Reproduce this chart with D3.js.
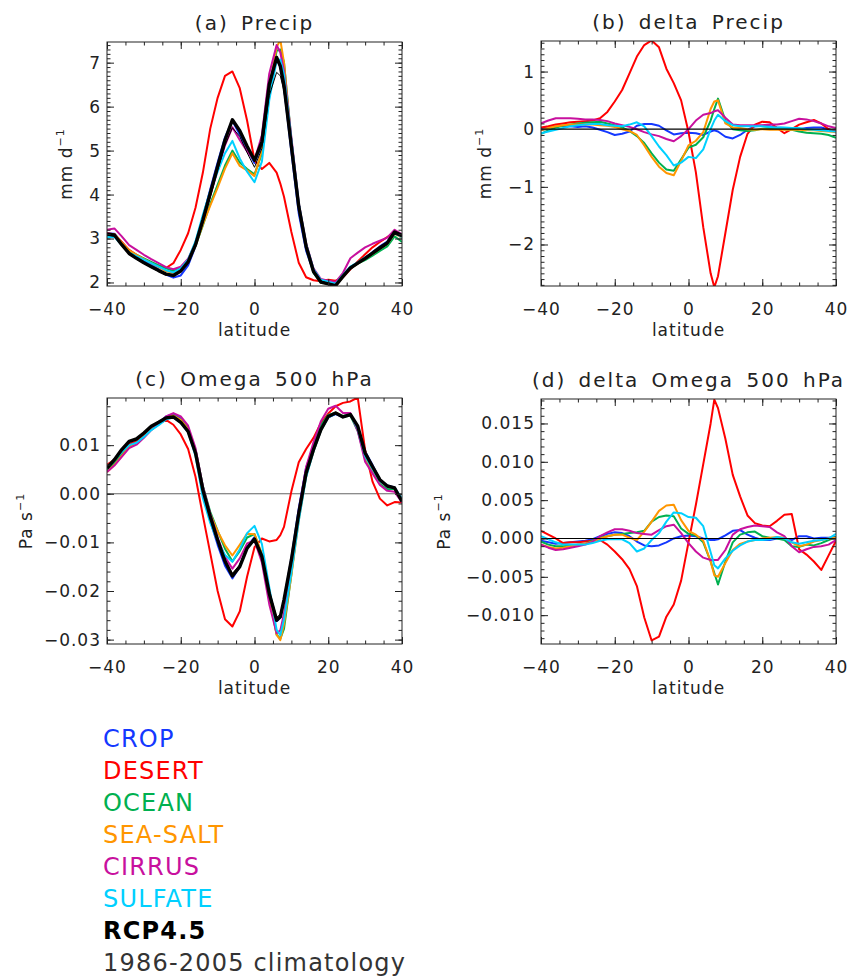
<!DOCTYPE html>
<html>
<head>
<meta charset="utf-8">
<title>Precip and Omega 500 hPa</title>
<style>
    html, body {
    margin: 0;
    padding: 0;
    background-color: white;
    }
    svg {
    display: block;
    font-family: "DejaVu Sans", sans-serif;
    }
</style>
</head>
<body>
<script src="https://d3js.org/d3.v7.min.js"></script>
<script>
// latitude grid (degrees)
var lat = [-40,-38,-36,-34,-32,-30,-28,-26,-24,-22,-20,-18,-16,-14,-12,-10,-8,-6,-4,-2,0,2,4,6,7,8,10,12,14,16,18,20,22,24,26,28,30,32,34,36,38,40];

// legend / series names
var names = ["CROP", "DESERT", "OCEAN", "SEA-SALT", "CIRRUS", "SULFATE"];
var rcpName = "RCP4.5";
var climName = "1986-2005 climatology";

// (a) precip, mm/day
var precipCrop    = [3.12,3.11,2.91,2.72,2.60,2.49,2.41,2.30,2.18,2.11,2.16,2.39,2.82,3.48,4.12,4.73,5.30,5.68,5.36,5.03,4.72,5.13,6.40,7.08,6.90,6.44,4.97,3.57,2.72,2.24,2.06,2.03,1.98,2.17,2.35,2.44,2.55,2.69,2.82,2.93,3.15,3.01];
var precipDesert  = [3.12,3.10,2.92,2.74,2.63,2.53,2.45,2.38,2.33,2.44,2.74,3.12,3.70,4.50,5.50,6.20,6.70,6.80,6.42,5.68,4.78,4.58,4.72,4.50,4.25,3.95,3.15,2.45,2.12,2.05,2.03,2.06,2.04,2.12,2.30,2.48,2.64,2.80,2.92,3.03,3.14,3.04];
var precipOcean   = [3.02,3.06,2.89,2.72,2.63,2.55,2.47,2.39,2.32,2.26,2.33,2.50,2.83,3.30,3.79,4.22,4.66,5.00,4.73,4.58,4.46,4.93,6.36,7.27,7.30,7.01,5.25,3.73,2.80,2.22,1.99,1.98,1.95,2.16,2.33,2.43,2.51,2.61,2.72,2.82,3.05,2.92];
var precipSeaSalt = [3.08,3.10,2.91,2.73,2.63,2.53,2.44,2.35,2.26,2.22,2.30,2.47,2.83,3.32,3.75,4.16,4.59,4.94,4.65,4.55,4.42,5.00,6.45,7.35,7.52,7.00,5.20,3.76,2.84,2.25,2.00,1.97,1.92,2.13,2.32,2.43,2.54,2.65,2.77,2.87,3.11,3.02];
var precipCirrus  = [3.20,3.23,3.05,2.85,2.74,2.63,2.53,2.44,2.35,2.30,2.36,2.54,2.90,3.42,3.98,4.55,5.12,5.53,5.24,4.98,4.78,5.35,6.75,7.40,7.23,6.81,5.30,3.81,2.89,2.32,2.08,2.04,2.01,2.22,2.55,2.68,2.80,2.88,2.95,3.02,3.20,3.09];
var precipSulfate = [3.03,3.04,2.85,2.68,2.60,2.52,2.44,2.36,2.28,2.23,2.32,2.52,2.94,3.54,4.08,4.52,4.94,5.22,4.82,4.52,4.28,4.75,6.15,7.05,7.07,6.73,5.24,3.80,2.87,2.30,2.06,2.02,1.97,2.17,2.36,2.46,2.57,2.67,2.78,2.88,3.12,3.03];
var precipRcp     = [3.10,3.08,2.86,2.66,2.55,2.45,2.36,2.27,2.19,2.16,2.26,2.47,2.86,3.42,4.03,4.64,5.24,5.70,5.45,5.10,4.78,5.20,6.50,7.12,6.92,6.48,5.10,3.73,2.82,2.25,2.01,1.97,1.93,2.14,2.33,2.44,2.55,2.67,2.79,2.90,3.15,3.07];
var precipClim    = [3.08,3.05,2.84,2.64,2.53,2.43,2.34,2.25,2.17,2.14,2.25,2.45,2.82,3.36,3.95,4.55,5.12,5.52,5.32,4.95,4.62,5.05,6.25,6.78,6.70,6.35,5.05,3.75,2.85,2.28,2.03,1.98,1.94,2.13,2.32,2.42,2.52,2.64,2.75,2.86,3.10,3.04];

// (b) delta precip, mm/day
var dPrecipCrop    = [0.02,0.03,0.05,0.06,0.05,0.04,0.05,0.03,-0.01,-0.05,-0.10,-0.08,-0.04,0.06,0.09,0.09,0.06,-0.02,-0.09,-0.07,-0.06,-0.07,-0.10,-0.04,-0.02,-0.04,-0.13,-0.16,-0.10,-0.01,0.05,0.06,0.05,0.03,0.02,0.00,0.00,0.02,0.03,0.03,0.00,-0.06];
var dPrecipDesert  = [0.03,0.05,0.08,0.10,0.12,0.13,0.14,0.15,0.19,0.30,0.48,0.68,0.97,1.26,1.46,1.54,1.42,1.05,0.80,0.50,-0.05,-0.75,-1.70,-2.50,-2.74,-2.55,-1.80,-1.05,-0.48,-0.08,0.08,0.13,0.12,0.02,-0.07,0.00,0.08,0.12,0.16,0.10,0.00,-0.04];
var dPrecipOcean   = [-0.08,-0.02,0.03,0.06,0.08,0.10,0.11,0.12,0.13,0.10,0.07,0.03,-0.03,-0.12,-0.24,-0.42,-0.58,-0.70,-0.72,-0.52,-0.32,-0.27,-0.14,0.15,0.35,0.53,0.15,0.00,-0.02,-0.03,-0.02,0.01,0.02,0.02,0.00,-0.01,-0.04,-0.06,-0.07,-0.08,-0.10,-0.15];
var dPrecipSeaSalt = [-0.02,0.02,0.05,0.07,0.08,0.08,0.08,0.08,0.07,0.06,0.04,0.00,-0.03,-0.10,-0.28,-0.48,-0.65,-0.76,-0.80,-0.55,-0.28,-0.20,-0.05,0.35,0.48,0.50,0.10,0.03,0.02,0.00,-0.01,0.00,-0.01,-0.01,-0.01,-0.01,-0.01,-0.02,-0.02,-0.03,-0.04,-0.05];
var dPrecipCirrus  = [0.10,0.15,0.19,0.19,0.19,0.18,0.17,0.17,0.16,0.14,0.10,0.07,0.04,0.00,-0.05,-0.09,-0.12,-0.17,-0.21,-0.12,0.00,0.15,0.25,0.28,0.31,0.33,0.20,0.08,0.07,0.07,0.07,0.07,0.08,0.08,0.10,0.14,0.18,0.17,0.14,0.10,0.05,0.02];
var dPrecipSulfate = [-0.07,-0.04,-0.01,0.02,0.05,0.07,0.08,0.09,0.09,0.07,0.06,0.05,0.08,0.12,0.05,-0.12,-0.30,-0.45,-0.63,-0.58,-0.48,-0.50,-0.35,0.00,0.15,0.25,0.14,0.07,0.05,0.05,0.05,0.05,0.04,0.03,0.03,0.02,0.02,0.00,-0.01,-0.02,-0.03,-0.04];

// (c) omega 500 hPa, Pa/s
var omegaCrop    = [0.0050,0.0065,0.0084,0.0102,0.0108,0.0121,0.0136,0.0146,0.0159,0.0164,0.0155,0.0135,0.0087,0.0004,-0.0056,-0.0105,-0.0148,-0.0174,-0.0150,-0.0109,-0.0089,-0.0126,-0.0205,-0.0262,-0.0255,-0.0219,-0.0132,-0.0030,0.0054,0.0096,0.0133,0.0157,0.0164,0.0158,0.0163,0.0137,0.0087,0.0059,0.0029,0.0017,0.0013,-0.0014];
var omegaDesert  = [0.0060,0.0070,0.0090,0.0102,0.0108,0.0120,0.0135,0.0144,0.0152,0.0142,0.0122,0.0092,0.0035,-0.0045,-0.0122,-0.0200,-0.0258,-0.0273,-0.0242,-0.0170,-0.0110,-0.0092,-0.0098,-0.0095,-0.0085,-0.0068,0.0005,0.0065,0.0092,0.0115,0.0145,0.0165,0.0180,0.0187,0.0190,0.0198,0.0090,0.0025,-0.0010,-0.0024,-0.0017,-0.0018];
var omegaOcean   = [0.0049,0.0062,0.0081,0.0098,0.0104,0.0117,0.0132,0.0144,0.0157,0.0161,0.0152,0.0134,0.0091,0.0016,-0.0037,-0.0076,-0.0113,-0.0139,-0.0118,-0.0090,-0.0083,-0.0125,-0.0210,-0.0290,-0.0298,-0.0278,-0.0166,-0.0045,0.0048,0.0099,0.0141,0.0162,0.0167,0.0158,0.0161,0.0129,0.0073,0.0048,0.0020,0.0010,0.0010,-0.0014];
var omegaSeaSalt = [0.0045,0.0059,0.0078,0.0096,0.0103,0.0117,0.0132,0.0143,0.0156,0.0161,0.0152,0.0133,0.0085,0.0006,-0.0042,-0.0077,-0.0106,-0.0127,-0.0105,-0.0082,-0.0083,-0.0124,-0.0208,-0.0290,-0.0301,-0.0268,-0.0168,-0.0055,0.0036,0.0087,0.0130,0.0159,0.0167,0.0160,0.0164,0.0134,0.0074,0.0048,0.0025,0.0014,0.0012,-0.0015];
var omegaCirrus  = [0.0045,0.0058,0.0076,0.0094,0.0101,0.0115,0.0131,0.0143,0.0159,0.0166,0.0159,0.0140,0.0094,0.0015,-0.0041,-0.0090,-0.0130,-0.0154,-0.0133,-0.0102,-0.0096,-0.0141,-0.0227,-0.0287,-0.0281,-0.0246,-0.0151,-0.0035,0.0055,0.0106,0.0149,0.0175,0.0181,0.0166,0.0166,0.0129,0.0066,0.0042,0.0018,0.0006,0.0004,-0.0018];
var omegaSulfate = [0.0056,0.0069,0.0086,0.0100,0.0105,0.0117,0.0131,0.0141,0.0153,0.0157,0.0146,0.0127,0.0078,-0.0009,-0.0060,-0.0098,-0.0126,-0.0140,-0.0114,-0.0081,-0.0066,-0.0103,-0.0192,-0.0280,-0.0291,-0.0258,-0.0162,-0.0056,0.0034,0.0087,0.0130,0.0157,0.0165,0.0160,0.0163,0.0134,0.0077,0.0051,0.0026,0.0014,0.0012,-0.0010];
var omegaRcp     = [0.0053,0.0070,0.0091,0.0108,0.0113,0.0125,0.0139,0.0147,0.0156,0.0158,0.0147,0.0128,0.0084,0.0008,-0.0047,-0.0095,-0.0139,-0.0169,-0.0150,-0.0112,-0.0093,-0.0129,-0.0205,-0.0260,-0.0253,-0.0218,-0.0136,-0.0040,0.0043,0.0091,0.0132,0.0159,0.0166,0.0158,0.0163,0.0139,0.0084,0.0056,0.0029,0.0016,0.0012,-0.0016];
var omegaClim    = [0.0054,0.0069,0.0090,0.0107,0.0112,0.0124,0.0138,0.0146,0.0155,0.0157,0.0146,0.0127,0.0084,0.0009,-0.0045,-0.0092,-0.0135,-0.0164,-0.0146,-0.0110,-0.0092,-0.0126,-0.0200,-0.0254,-0.0248,-0.0214,-0.0134,-0.0040,0.0042,0.0090,0.0131,0.0158,0.0165,0.0157,0.0162,0.0138,0.0084,0.0056,0.0030,0.0017,0.0013,-0.0015];

// (d) delta omega 500 hPa, Pa/s
var dOmegaCrop    = [-0.0003,-0.0005,-0.0007,-0.0006,-0.0005,-0.0004,-0.0003,-0.0001,0.0003,0.0006,0.0008,0.0007,0.0003,-0.0004,-0.0009,-0.0010,-0.0009,-0.0005,0.0000,0.0003,0.0004,0.0003,0.0000,-0.0002,-0.0002,-0.0001,0.0004,0.0010,0.0011,0.0005,0.0001,-0.0002,-0.0002,0.0000,0.0000,-0.0002,0.0003,0.0003,0.0000,0.0001,0.0001,0.0002];
var dOmegaDesert  = [0.0010,0.0005,0.0000,-0.0006,-0.0005,-0.0005,-0.0004,-0.0003,-0.0002,-0.0008,-0.0017,-0.0027,-0.0040,-0.0062,-0.0103,-0.0133,-0.0128,-0.0102,-0.0086,-0.0055,-0.0005,0.0044,0.0097,0.0150,0.0181,0.0170,0.0130,0.0083,0.0055,0.0030,0.0020,0.0017,0.0016,0.0023,0.0031,0.0032,-0.0014,-0.0021,-0.0030,-0.0041,-0.0022,-0.0003];
var dOmegaOcean   = [-0.0004,-0.0008,-0.0010,-0.0010,-0.0009,-0.0008,-0.0007,-0.0003,0.0001,0.0003,0.0005,0.0006,0.0007,0.0008,0.0010,0.0022,0.0028,0.0030,0.0029,0.0013,0.0006,0.0004,-0.0005,-0.0030,-0.0045,-0.0060,-0.0030,-0.0005,0.0005,0.0008,0.0009,0.0003,0.0001,0.0000,-0.0002,-0.0010,-0.0011,-0.0008,-0.0009,-0.0006,-0.0002,0.0002];
var dOmegaSeaSalt = [-0.0008,-0.0011,-0.0013,-0.0012,-0.0010,-0.0008,-0.0007,-0.0004,0.0000,0.0003,0.0005,0.0005,0.0001,-0.0002,0.0009,0.0022,0.0036,0.0043,0.0044,0.0024,0.0010,0.0005,-0.0003,-0.0030,-0.0048,-0.0050,-0.0032,-0.0015,-0.0007,-0.0004,-0.0002,0.0000,0.0001,0.0002,0.0001,-0.0005,-0.0010,-0.0008,-0.0004,-0.0002,0.0000,0.0001];
var dOmegaCirrus  = [-0.0008,-0.0012,-0.0015,-0.0014,-0.0012,-0.0010,-0.0008,-0.0004,0.0003,0.0008,0.0012,0.0012,0.0010,0.0007,0.0006,0.0005,0.0011,0.0016,0.0018,0.0007,-0.0006,-0.0017,-0.0025,-0.0028,-0.0028,-0.0028,-0.0015,0.0005,0.0012,0.0015,0.0017,0.0016,0.0015,0.0008,0.0003,-0.0010,-0.0018,-0.0014,-0.0011,-0.0010,-0.0008,-0.0002];
var dOmegaSulfate = [0.0003,-0.0001,-0.0005,-0.0008,-0.0008,-0.0008,-0.0008,-0.0006,-0.0003,-0.0001,-0.0001,-0.0001,-0.0006,-0.0017,-0.0013,-0.0002,0.0007,0.0022,0.0034,0.0033,0.0028,0.0027,0.0016,-0.0018,-0.0035,-0.0039,-0.0026,-0.0016,-0.0009,-0.0004,-0.0002,-0.0002,-0.0001,0.0002,0.0000,-0.0005,-0.0007,-0.0005,-0.0003,-0.0002,0.0000,0.0006];

// tick values and labels
var xTicks = [-40, -20, 0, 20, 40];
var xTickLabels = ["\u221240", "\u221220", "0", "20", "40"];
var precipTicks = [2, 3, 4, 5, 6, 7];
var precipTickLabels = ["2", "3", "4", "5", "6", "7"];
var dPrecipTicks = [-2, -1, 0, 1];
var dPrecipTickLabels = ["\u22122", "\u22121", "0", "1"];
var omegaTicks = [-0.03, -0.02, -0.01, 0, 0.01];
var omegaTickLabels = ["\u22120.03", "\u22120.02", "\u22120.01", "0.00", "0.01"];
var dOmegaTicks = [-0.010, -0.005, 0, 0.005, 0.010, 0.015];
var dOmegaTickLabels = ["\u22120.010", "\u22120.005", "0.000", "0.005", "0.010", "0.015"];

// colours of the six experiments
var colors = ["#1438ff", "#ff0000", "#00b050", "#ff9600", "#c8109e", "#00d0ff"];

var width = 852;
var height = 978;
var ink = "#222";

var svg = d3.select("body")
    .append("svg")
    .attr("width", width)
    .attr("height", height);

function drawPanel(p) {
    var x = d3.scaleLinear().domain([-40, 40]).range([p.x0, p.x1]);
    var y = d3.scaleLinear().domain(p.yDomain).range([p.y1, p.y0]);
    var g = svg.append("g");

    // clip so lines stay inside the frame
    g.append("clipPath").attr("id", "clip-" + p.id)
        .append("rect")
        .attr("x", p.x0).attr("y", p.y0)
        .attr("width", p.x1 - p.x0).attr("height", p.y1 - p.y0);

    var plot = g.append("g").attr("clip-path", "url(#clip-" + p.id + ")");

    var line = d3.line()
        .x(function(d, i) { return x(lat[i]); })
        .y(function(d) { return y(d); });

    if (p.zeroBelow) {
        plot.append("line")
            .attr("x1", p.x0).attr("x2", p.x1)
            .attr("y1", y(0)).attr("y2", y(0))
            .attr("stroke", p.zeroColor).attr("stroke-width", 1.2);
    }

    p.series.forEach(function(s) {
        plot.append("path")
            .datum(s.values)
            .attr("fill", "none")
            .attr("stroke", s.color)
            .attr("stroke-width", s.width)
            .attr("stroke-linejoin", "round")
            .attr("d", line);
    });

    if (!p.zeroBelow) {
        plot.append("line")
            .attr("x1", p.x0).attr("x2", p.x1)
            .attr("y1", y(0)).attr("y2", y(0))
            .attr("stroke", p.zeroColor).attr("stroke-width", 1.2);
    }

    // frame
    g.append("rect")
        .attr("x", p.x0).attr("y", p.y0)
        .attr("width", p.x1 - p.x0).attr("height", p.y1 - p.y0)
        .attr("fill", "none").attr("stroke", ink).attr("stroke-width", 1);

    var xMinor = d3.range(-40, 40.1, 5);
    var yMinor = d3.range(p.minorStart, p.yDomain[1], p.minorStep);

    // x axes, bottom with labels, top mirrored
    g.append("g").attr("class", "ax").attr("transform", "translate(0," + p.y1 + ")")
        .call(d3.axisBottom(x).tickValues(xMinor).tickSize(-3.5).tickFormat(""));
    g.append("g").attr("class", "ax lab").attr("transform", "translate(0," + p.y1 + ")")
        .call(d3.axisBottom(x).tickValues(xTicks).tickSize(-7).tickPadding(17)
            .tickFormat(function(d, i) { return xTickLabels[i]; }));
    g.append("g").attr("class", "ax").attr("transform", "translate(0," + p.y0 + ")")
        .call(d3.axisTop(x).tickValues(xMinor).tickSize(-3.5).tickFormat(""));
    g.append("g").attr("class", "ax").attr("transform", "translate(0," + p.y0 + ")")
        .call(d3.axisTop(x).tickValues(xTicks).tickSize(-7).tickFormat(""));

    // y axes, left with labels, right mirrored
    g.append("g").attr("class", "ax").attr("transform", "translate(" + p.x0 + ",0)")
        .call(d3.axisLeft(y).tickValues(yMinor).tickSize(-3.5).tickFormat(""));
    g.append("g").attr("class", "ax lab").attr("transform", "translate(" + p.x0 + ",0)")
        .call(d3.axisLeft(y).tickValues(p.yTicks).tickSize(-7).tickPadding(6)
            .tickFormat(function(d, i) { return p.yTickLabels[i]; }));
    g.append("g").attr("class", "ax").attr("transform", "translate(" + p.x1 + ",0)")
        .call(d3.axisRight(y).tickValues(yMinor).tickSize(-3.5).tickFormat(""));
    g.append("g").attr("class", "ax").attr("transform", "translate(" + p.x1 + ",0)")
        .call(d3.axisRight(y).tickValues(p.yTicks).tickSize(-7).tickFormat(""));

    g.selectAll(".ax").attr("font-family", null).attr("font-size", null);
    g.selectAll(".ax .domain").remove();
    g.selectAll(".ax line").attr("stroke", ink);
    g.selectAll(".lab text")
        .attr("fill", ink)
        .style("font-size", "17px")
        .style("letter-spacing", "1px");

    // title
    g.append("text")
        .attr("x", (p.x0 + p.x1) / 2).attr("y", p.y0 - 12)
        .attr("text-anchor", "middle")
        .attr("fill", ink)
        .style("font-size", "20px")
        .style("letter-spacing", "2px")
        .style("word-spacing", "4px")
        .text(p.title);

    // x label
    g.append("text")
        .attr("x", (p.x0 + p.x1) / 2).attr("y", p.y1 + 50)
        .attr("text-anchor", "middle")
        .attr("fill", ink)
        .style("font-size", "17px")
        .style("letter-spacing", "1px")
        .text("latitude");

    // y label with superscript
    var yl = g.append("text")
        .attr("transform", "translate(" + p.yLabelX + "," + ((p.y0 + p.y1) / 2) + ") rotate(-90)")
        .attr("text-anchor", "middle")
        .attr("fill", ink)
        .style("font-size", "17px")
        .style("letter-spacing", "1px");
    yl.append("tspan").text(p.yLabel);
    yl.append("tspan").attr("dy", -8).style("font-size", "11px").text("\u22121");
}

function six(a, b, c, d, e, f) {
    return [a, b, c, d, e, f].map(function(v, i) {
        return {values: v, color: colors[i], width: 2};
    });
}

drawPanel({
    id: "a", x0: 107, x1: 402, y0: 42, y1: 286,
    yDomain: [1.92, 7.47], yTicks: precipTicks, yTickLabels: precipTickLabels,
    minorStart: 2, minorStep: 0.1,
    title: "(a) Precip", yLabel: "mm d", yLabelX: 72,
    zeroColor: "none", zeroBelow: true,
    series: six(precipCrop, precipDesert, precipOcean, precipSeaSalt, precipCirrus, precipSulfate)
        .concat([{values: precipRcp, color: "#000", width: 3.4},
                 {values: precipClim, color: "#000", width: 1}])
});

drawPanel({
    id: "b", x0: 541, x1: 836, y0: 41, y1: 286,
    yDomain: [-2.72, 1.53], yTicks: dPrecipTicks, yTickLabels: dPrecipTickLabels,
    minorStart: -2.7, minorStep: 0.1,
    title: "(b) delta Precip", yLabel: "mm d", yLabelX: 491,
    zeroColor: "#000", zeroBelow: false,
    series: six(dPrecipCrop, dPrecipDesert, dPrecipOcean, dPrecipSeaSalt, dPrecipCirrus, dPrecipSulfate)
});

drawPanel({
    id: "c", x0: 107, x1: 402, y0: 398, y1: 644,
    yDomain: [-0.0309, 0.0197], yTicks: omegaTicks, yTickLabels: omegaTickLabels,
    minorStart: -0.030, minorStep: 0.002,
    title: "(c) Omega 500 hPa", yLabel: "Pa s", yLabelX: 32,
    zeroColor: "#666", zeroBelow: true,
    series: six(omegaCrop, omegaDesert, omegaOcean, omegaSeaSalt, omegaCirrus, omegaSulfate)
        .concat([{values: omegaRcp, color: "#000", width: 3.4},
                 {values: omegaClim, color: "#000", width: 1}])
});

drawPanel({
    id: "d", x0: 541, x1: 836, y0: 399, y1: 644,
    yDomain: [-0.01376, 0.01819], yTicks: dOmegaTicks, yTickLabels: dOmegaTickLabels,
    minorStart: -0.013, minorStep: 0.001,
    title: "(d) delta Omega 500 hPa", yLabel: "Pa s", yLabelX: 450,
    zeroColor: "#000", zeroBelow: false,
    series: six(dOmegaCrop, dOmegaDesert, dOmegaOcean, dOmegaSeaSalt, dOmegaCirrus, dOmegaSulfate)
});

// legend
var legend = svg.append("g").attr("transform", "translate(103,747)");
var entries = names.map(function(n, i) { return {text: n, color: colors[i], bold: false}; })
    .concat([{text: rcpName, color: "#000", bold: true},
             {text: climName, color: "#333", bold: false}]);

legend.selectAll("text")
    .data(entries)
    .enter().append("text")
    .attr("x", 0)
    .attr("y", function(d, i) { return i * 32; })
    .attr("fill", function(d) { return d.color; })
    .style("font-size", "24px")
    .style("letter-spacing", "1.2px")
    .style("font-weight", function(d) { return d.bold ? "bold" : "normal"; })
    .text(function(d) { return d.text; });
</script>
</body>
</html>
